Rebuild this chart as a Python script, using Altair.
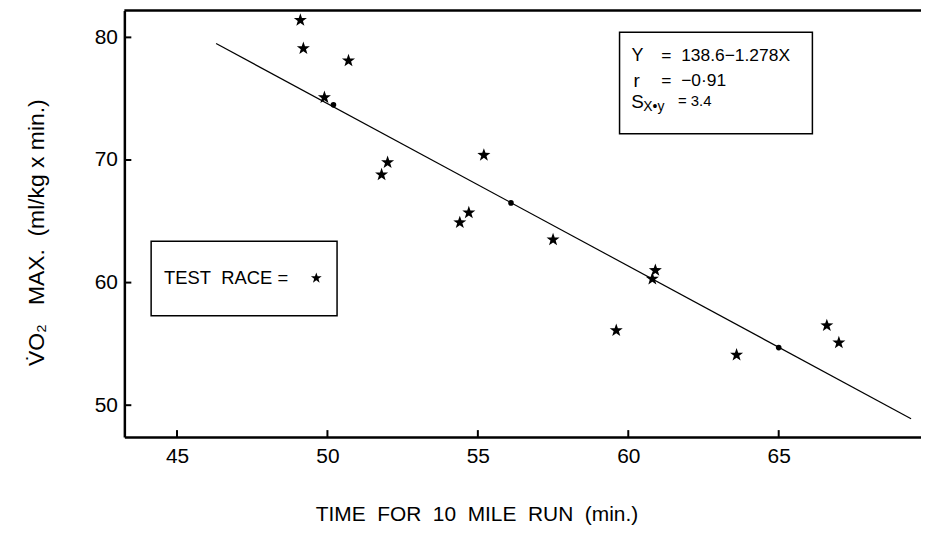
import altair as alt
import pandas as pd

# --- data ---
time_min = [49.1, 49.2, 50.7, 49.9, 52.0, 51.8, 55.2, 54.7, 54.4, 57.5, 59.6, 60.9, 60.8, 63.6, 66.6, 67.0]
vo2_max = [81.4, 79.1, 78.1, 75.1, 69.8, 68.8, 70.4, 65.7, 64.9, 63.5, 56.1, 61.0, 60.3, 54.1, 56.5, 55.1]

line_time = [46.3, 69.4]
line_vo2 = [79.5, 48.9]

dot_time = [50.2, 56.1, 65.0]
dot_vo2 = [74.5, 66.5, 54.7]

x_ticks = [45, 50, 55, 60, 65]
y_ticks = [50, 60, 70, 80]

NB = "\u00a0"
x_title = f"TIME{NB}{NB}FOR{NB}{NB}10{NB}{NB}MILE{NB}{NB}RUN{NB}{NB}(min.)"
y_title = f"V\u0307O\u2082{NB}{NB}{NB}MAX.{NB}{NB}(ml/kg{NB}x{NB}min.)"

# --- layout ---
W, H = 801, 429
FONT = "Liberation Sans"
STAR = ("M0,-1L0.235,-0.324L0.951,-0.309L0.38,0.124L0.588,0.809L0,0.4"
        "L-0.588,0.809L-0.38,0.124L-0.951,-0.309L-0.235,-0.324Z")

xs = alt.Scale(domain=[43.25, 69.73], nice=False, zero=False)
ys = alt.Scale(domain=[47.4, 82.2], nice=False, zero=False)

x_axis = alt.Axis(values=x_ticks, title=x_title, grid=False, tickSize=0, labelPadding=9,
                  labelFontSize=21, labelFont=FONT, labelColor="black",
                  domainColor="black", domainWidth=2.5,
                  titleFont=FONT, titleFontSize=21, titleFontWeight="normal", titleColor="black",
                  titleX=354, titleY=78, titleAlign="center", titleBaseline="middle")
y_axis = alt.Axis(values=y_ticks, title=y_title, grid=False, tickSize=0, labelPadding=7,
                  labelFontSize=21, labelFont=FONT, labelColor="black",
                  domainColor="black", domainWidth=2.5,
                  titleFont=FONT, titleFontSize=23, titleFontWeight="normal", titleColor="black",
                  titleAngle=270, titleX=-88, titleY=223, titleAlign="center", titleBaseline="middle")

pts = pd.DataFrame({"time": time_min, "vo2": vo2_max})
reg = pd.DataFrame({"time": line_time, "vo2": line_vo2})
dots = pd.DataFrame({"time": dot_time, "vo2": dot_vo2})
xt = pd.DataFrame({"t": x_ticks})
yt = pd.DataFrame({"t": y_ticks})

stars = alt.Chart(pts).mark_point(shape=STAR, filled=True, color="black", size=190, opacity=1).encode(
    x=alt.X("time:Q", scale=xs, axis=x_axis),
    y=alt.Y("vo2:Q", scale=ys, axis=y_axis),
)

line = alt.Chart(reg).mark_line(color="black", strokeWidth=1.2).encode(
    x=alt.X("time:Q", scale=xs), y=alt.Y("vo2:Q", scale=ys))

dot_layer = alt.Chart(dots).mark_circle(color="black", size=32, opacity=1).encode(
    x=alt.X("time:Q", scale=xs), y=alt.Y("vo2:Q", scale=ys))

# inward tick marks
xtick_layer = alt.Chart(xt).mark_rule(color="black", strokeWidth=2).encode(
    x=alt.X("t:Q", scale=xs), y=alt.value(H), y2=alt.value(H - 7))
ytick_layer = alt.Chart(yt).mark_rule(color="black", strokeWidth=2).encode(
    y=alt.Y("t:Q", scale=ys), x=alt.value(0), x2=alt.value(7))

# top frame line (full-width horizontal rule)
top_rule = alt.Chart(pd.DataFrame({"t": [0]})).mark_rule(color="black", strokeWidth=2.5).encode(
    y=alt.value(0))

# boxes
boxes = pd.DataFrame({
    "x": [44.14, 59.71], "x2": [50.32, 66.12],
    "y": [57.29, 72.13], "y2": [63.37, 80.41],
})
box_layer = alt.Chart(boxes).mark_rect(fill="white", stroke="black", strokeWidth=1.5).encode(
    x=alt.X("x:Q", scale=xs), x2="x2:Q", y=alt.Y("y:Q", scale=ys), y2="y2:Q")

texts = pd.DataFrame({
    "x": [44.57, 60.11, 61.1, 60.17, 61.1, 60.1, 60.5, 61.65],
    "y": [60.37, 78.46, 78.46, 76.43, 76.43, 74.73, 74.3, 74.8],
    "label": [f"TEST{NB}{NB}RACE{NB}={NB}", "Y", f"={NB}{NB}138.6\u22121.278X", "r",
              f"={NB}{NB}\u22120\u00b791", "S", "X\u2022y", "= 3.4"],
    "fs": [18.5, 18, 17.5, 19, 17.5, 19, 14, 15],
})
text_layer = alt.Chart(texts).mark_text(align="left", baseline="middle", font=FONT,
                                        color="black").encode(
    x=alt.X("x:Q", scale=xs), y=alt.Y("y:Q", scale=ys), text="label:N",
    size=alt.Size("fs:Q", scale=None, legend=None))

legend_star = alt.Chart(pd.DataFrame({"x": [49.63], "y": [60.37]})).mark_point(
    shape=STAR, filled=True, color="black", size=130, opacity=1).encode(
    x=alt.X("x:Q", scale=xs), y=alt.Y("y:Q", scale=ys))

chart = alt.layer(
    stars, box_layer, text_layer, legend_star, line, dot_layer, xtick_layer, ytick_layer, top_rule
).properties(
    width=W, height=H,
    background="white",
    autosize=alt.AutoSizeParams(type="none"),
    padding={"left": 117, "top": 1, "right": 0, "bottom": 89},
).configure_view(stroke="transparent", strokeWidth=0)

chart.save("out.html", embed_options={"renderer": "svg", "actions": False})
